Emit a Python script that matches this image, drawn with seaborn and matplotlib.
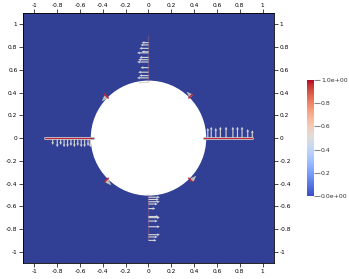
import numpy as np
import matplotlib
matplotlib.use("Agg")
import matplotlib.pyplot as plt
import seaborn as sns
from matplotlib.patches import Rectangle, Circle
from matplotlib.colors import Normalize
from matplotlib.cm import ScalarMappable

# domain and hole
domain = [-1.1, 1.1]
hole_r = 0.5
ticks = [-1, -0.8, -0.6, -0.4, -0.2, 0, 0.2, 0.4, 0.6, 0.8, 1]
tick_labels = ["-1", "-0.8", "-0.6", "-0.4", "-0.2", "0", "0.2", "0.4", "0.6", "0.8", "1"]

# main cracks (start/end along the axes)
crack_top_y = [0.49, 0.91]
crack_bottom_y = [-0.49, -0.90]
crack_left_x = [-0.49, -0.91]
crack_right_x = [0.49, 0.91]

# short cracks at the diagonals: angle (deg), r start, r end
diag_angle = [45, 135, 225, 315]
diag_r0 = [0.5, 0.5, 0.5, 0.5]
diag_r1 = [0.54, 0.55, 0.54, 0.54]

# glyphs along the cracks
top_pos = [0.49, 0.53, 0.55, 0.58, 0.62, 0.67, 0.69, 0.71, 0.75, 0.76, 0.79, 0.82, 0.84]
top_len = [0.09, 0.1, 0.08, 0.09, 0.07, 0.1, 0.09, 0.08, 0.1, 0.06, 0.08, 0.07, 0.06]
right_pos = [0.52, 0.55, 0.59, 0.63, 0.68, 0.74, 0.78, 0.82, 0.87, 0.91]
right_len = [0.09, 0.1, 0.09, 0.1, 0.1, 0.1, 0.1, 0.1, 0.08, 0.07]
left_pos = [-0.84, -0.8, -0.77, -0.74, -0.71, -0.68, -0.65, -0.62, -0.59, -0.56, -0.53, -0.51]
left_len = [0.06, 0.08, 0.06, 0.08, 0.08, 0.07, 0.08, 0.07, 0.08, 0.08, 0.07, 0.08]
bottom_pos = [-0.52, -0.54, -0.56, -0.58, -0.62, -0.69, -0.70, -0.73, -0.78, -0.85, -0.87, -0.9]
bottom_len = [0.1, 0.09, 0.1, 0.08, 0.06, 0.09, 0.1, 0.08, 0.1, 0.1, 0.08, 0.07]

cbar_ticks = [0, 0.2, 0.4, 0.6, 0.8, 1.0]
cbar_labels = ["0.0e+00", "0.2", "0.4", "0.6", "0.8", "1.0e+00"]

sns.set_theme(style="white")
plt.rcParams["font.family"] = ["DejaVu Sans"]

fig = plt.figure(figsize=(3.49, 2.79), dpi=100)
ax = fig.add_axes([0.066, 0.057, 0.719, 0.896])
cmap = sns.color_palette("coolwarm", as_cmap=True)
field_color = "#313f94"
crack_color = "#c0283a"

ax.add_patch(Rectangle((domain[0], domain[0]), domain[1] - domain[0], domain[1] - domain[0],
                       color=field_color, zorder=0))
ax.add_patch(Circle((0, 0), hole_r, color="white", zorder=1))

# grey halo + red crack line
for xs, ys in [([0, 0], crack_top_y), ([0, 0], crack_bottom_y),
               (crack_left_x, [0, 0]), (crack_right_x, [0, 0])]:
    sns.lineplot(x=xs, y=ys, color="#b9b9c4", lw=2.2, ax=ax, zorder=2, sort=False)
    sns.lineplot(x=xs, y=ys, color=crack_color, lw=0.8, ax=ax, zorder=5, sort=False)

for a, r0, r1 in zip(diag_angle, diag_r0, diag_r1):
    t = np.deg2rad(a)
    ax.quiver([0.525 * np.cos(t)], [0.525 * np.sin(t)], [-0.06 * np.sin(t)], [0.06 * np.cos(t)],
              angles="xy", scale_units="xy", scale=1, color="#bdbdbd", width=0.012,
              headwidth=1.5, headlength=2, headaxislength=2, zorder=2)
    sns.lineplot(x=[r0 * np.cos(t), r1 * np.cos(t)], y=[r0 * np.sin(t), r1 * np.sin(t)],
                 color=crack_color, lw=1.2, ax=ax, zorder=3, sort=False)

glyph = dict(angles="xy", scale_units="xy", scale=1, color="#d6d6d6", width=0.0045,
             headwidth=2.6, headlength=2.6, headaxislength=2.2, zorder=4)
n = len(top_pos)
ax.quiver(np.zeros(n), top_pos, -np.array(top_len), np.zeros(n), **glyph)
n = len(right_pos)
ax.quiver(right_pos, np.zeros(n), np.zeros(n), right_len, **glyph)
n = len(left_pos)
ax.quiver(left_pos, np.zeros(n), np.zeros(n), -np.array(left_len), **glyph)
n = len(bottom_pos)
ax.quiver(np.zeros(n), bottom_pos, bottom_len, np.zeros(n), **glyph)

ax.set_xlim(domain)
ax.set_ylim(domain)
ax.set_xticks(ticks)
ax.set_xticklabels(tick_labels)
ax.set_yticks(ticks)
ax.set_yticklabels(tick_labels)
ax.tick_params(axis="both", which="both", direction="out", length=3, width=0.5, pad=1,
               labelsize=4.2, colors="black", bottom=True, top=True, left=True, right=True,
               labelbottom=True, labeltop=True, labelleft=True, labelright=True)
for s in ax.spines.values():
    s.set_color("black")
    s.set_linewidth(0.6)

# colorbar
cax = fig.add_axes([0.880, 0.2975, 0.020, 0.416])
sm = ScalarMappable(norm=Normalize(0, 1), cmap=cmap)
cb = fig.colorbar(sm, cax=cax)
cb.outline.set_visible(False)
cb.set_ticks(cbar_ticks)
cb.set_ticklabels(cbar_labels)
cax.tick_params(length=4, width=0.8, color="#888888", pad=1, labelsize=4.4, labelcolor="#333333")

fig.savefig("out.png", dpi=100)
